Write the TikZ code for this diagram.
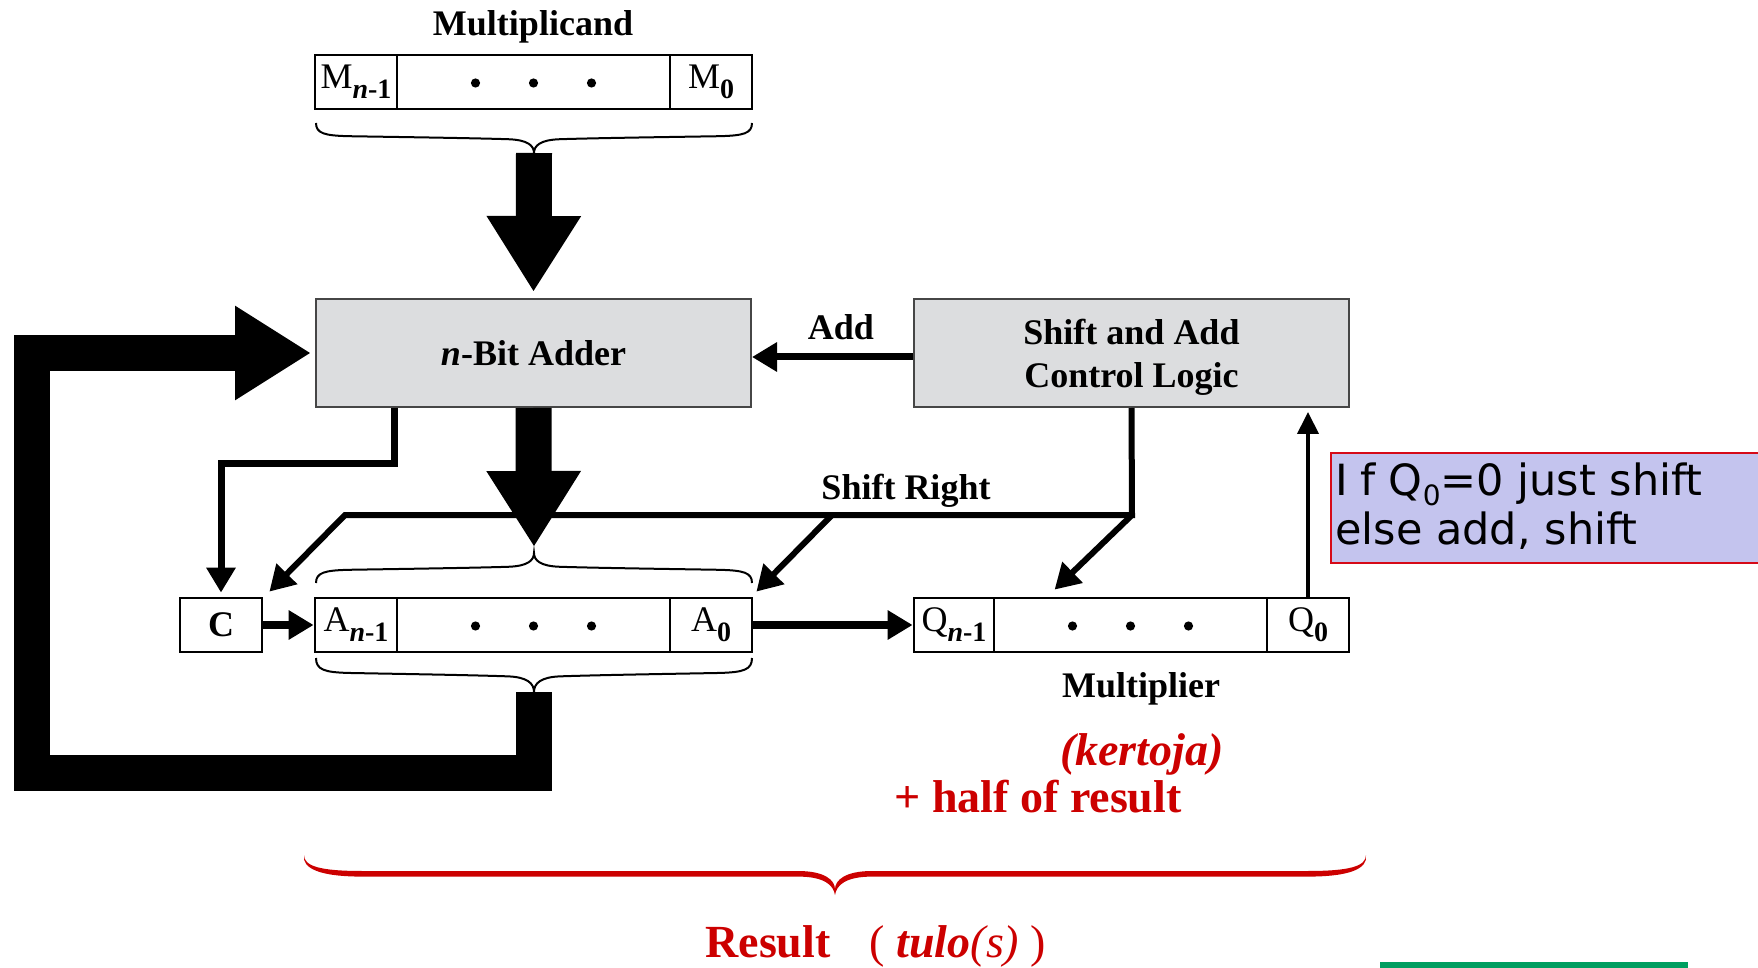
\documentclass[tikz,border=0pt]{standalone}
\usepackage{fontspec}
\setmainfont{Liberation Serif}
\newfontfamily\notefont{DejaVu Sans}
\usetikzlibrary{arrows.meta,calc}

\definecolor{unitgray}{RGB}{220,221,223}
\definecolor{unitedge}{RGB}{70,70,70}
\definecolor{notefill}{RGB}{196,196,238}
\definecolor{noteedge}{RGB}{214,10,24}
\definecolor{textred}{RGB}{204,0,0}
\definecolor{barGreen}{RGB}{0,158,96}

% subscript used in the register cells
\newcommand\regsub[1]{\raisebox{-0.28em}{\fontsize{14}{14}\selectfont\bfseries #1}}

\tikzset{
  lbl/.style={font={\fontsize{18}{21}\selectfont\bfseries}, inner sep=0pt, anchor=base},
  cell/.style={draw=black, line width=1.4pt, inner sep=0pt, minimum height=27pt,
    font={\fontsize{18}{21}\selectfont}},
  unitbox/.style={draw=unitedge, line width=1pt, fill=unitgray, inner sep=0pt,
    minimum width=217.5pt, minimum height=54pt},
  sig/.style={line width=3.5pt, -{Triangle[length=12.5pt,width=14pt]}, line join=miter},
  bigarrow/.style={line width=18pt, -{Triangle[length=38pt,width=44.5pt]}, line join=miter},
  braceline/.style={line width=1pt, black},
  redtxt/.style={text=textred, inner sep=0pt, anchor=base,
    font={\fontsize{23}{27}\selectfont\bfseries}},
  notetxt/.style={inner sep=0pt, anchor=base west, font={\notefont\fontsize{21.5}{25}\selectfont}},
  dotmark/.style={fill=black},
  pics/curlybrace/.style={code={
    \draw[braceline]
      (-1,0) .. controls (-1,0.35) and (-0.96,0.42) .. (-0.85,0.44)
      .. controls (-0.6,0.47) and (-0.3,0.5) .. (-0.12,0.54)
      .. controls (-0.03,0.56) and (0,0.75) .. (0,1)
      .. controls (0,0.75) and (0.03,0.56) .. (0.12,0.54)
      .. controls (0.3,0.5) and (0.6,0.47) .. (0.85,0.44)
      .. controls (0.96,0.42) and (1,0.35) .. (1,0);
  }},
  pics/bigbrace/.style={code={
    \fill[textred]
      (-1,0) .. controls (-1,0.28) and (-0.97,0.40) .. (-0.89,0.40)
      -- (-0.07,0.40) .. controls (-0.02,0.40) and (0,0.62) .. (0,0.86)
      .. controls (0,0.62) and (0.02,0.40) .. (0.07,0.40)
      -- (0.89,0.40) .. controls (0.97,0.40) and (1,0.28) .. (1,0)
      .. controls (1.004,0.34) and (0.97,0.54) .. (0.89,0.54)
      -- (0.07,0.54) .. controls (0.02,0.54) and (0.003,0.75) .. (0,1)
      .. controls (-0.003,0.75) and (-0.02,0.54) .. (-0.07,0.54)
      -- (-0.89,0.54) .. controls (-0.97,0.54) and (-1.004,0.34) .. (-1,0) -- cycle;
  }}
}

\begin{document}
\begin{tikzpicture}[x=0.5pt,y=-0.5pt]
\useasboundingbox (0,0) rectangle (1758,968);

% ---------- multiplicand register ----------
\node[lbl] (mcand) at (533,36) {Multiplicand};
\node[cell, minimum width=41pt]    (ML) at (356,82)   {M\regsub{\textit{n}-1}};
\node[cell, minimum width=136.5pt] (MD) at (533.5,82) {};
\node[cell, minimum width=41pt]    (MR) at (711,82)   {M\regsub{0}};
\pic[xscale=218, yscale=30] at (534,123) {curlybrace};
\coordinate (mtip) at (534,153);

% ---------- functional units ----------
\node[unitbox, font={\fontsize{18}{21}\selectfont\bfseries}] (adder) at (533.5,353) {\textit{n}-Bit Adder};
\node[unitbox] (ctl) at (1131.5,353) {};
\node[lbl, anchor=center, align=center, font={\fontsize{18}{21.5}\selectfont\bfseries}]
  (ctltext) at ([yshift=-2pt]ctl.center) {Shift and Add\\Control Logic};

% ---------- C, A and Q registers ----------
\node[cell, minimum width=41pt, font={\fontsize{18}{21}\selectfont\bfseries}] (C) at (221,625) {C};
\node[cell, minimum width=41pt]    (AL) at (356,625)   {A\regsub{\textit{n}-1}};
\node[cell, minimum width=136.5pt] (AD) at (533.5,625) {};
\node[cell, minimum width=41pt]    (AR) at (711,625)   {A\regsub{0}};
\node[cell, minimum width=40pt]    (QL) at (954,625)    {Q\regsub{\textit{n}-1}};
\node[cell, minimum width=136.5pt] (QD) at (1130.5,625) {};
\node[cell, minimum width=41pt]    (QR) at (1308,625)   {Q\regsub{0}};
\foreach \reg in {MD,AD,QD}{
  \foreach \dx in {-58,0,58}
    \fill[dotmark] ($(\reg.center)+(\dx,1)$) circle[radius=2.3pt];
}
\pic[xscale=218, yscale=-30] at (534,583) {curlybrace};
\pic[xscale=218, yscale=34] at (534,658) {curlybrace};
\coordinate (atop) at (534,553);
\coordinate (abot) at (534,692);

\node[lbl] (addlbl) at (841,340) {Add};
\node[lbl] (srlbl) at (906,500) {Shift Right};
\node[lbl] (mplier) at (1141,697) {Multiplier};

% ---------- control signals ----------
\draw[sig] ([yshift=-2pt]ctl.west) -- ([yshift=-2pt]adder.east);
\draw[sig] ([xshift=39.5pt]adder.south west) -- ++(0,56) -| ([yshift=2pt]C.north);

\coordinate (sj) at (1132,515);
\coordinate (sl) at (345,515);
\coordinate (sm) at (832,515);
\draw[sig, line width=3pt] (ctl.south) -- (sj) -- (sl) -- ([shift={(6,-5)}]C.north east);
\draw[sig, line width=3pt] (sm) -- ([shift={(3,-5)}]AR.north east);
\draw[sig, line width=3pt] (sj) -- ([shift={(62,-7)}]QD.north west);

\draw[sig, line width=4pt] (C.east) -- (AL.west);
\draw[sig, line width=4pt] (AR.east) -- (QL.west);
\draw[line width=2pt, -{Triangle[length=11pt,width=10.5pt]}]
  (QR.north) -- ($(QR.north |- ctl.south)+(0,4)$);

% ---------- data paths ----------
\draw[bigarrow] (mtip) -- ([yshift=3pt]adder.north);
\draw[bigarrow] (adder.south) -- ([yshift=3pt]atop);
\coordinate (fbcorner) at (32,773);
\draw[bigarrow] (abot) -- (abot |- fbcorner) -- (fbcorner)
  -- (fbcorner |- adder.west) -- ([xshift=-2pt]adder.west);

% ---------- note box ----------
\begin{scope}
  \clip (0,0) rectangle (1758,968);
  \node[draw=noteedge, line width=1pt, fill=notefill, inner sep=0pt, anchor=north west,
    minimum width=225pt, minimum height=55pt] (note) at (1330,452) {};
  \fill[barGreen] (1380,962) rectangle (1688,975);
\end{scope}
\node[notetxt] (note1) at (1335,495) {I\kern0.28em f Q\raisebox{-0.25em}{\fontsize{14}{14}\selectfont 0}=0 just shift};
\node[notetxt] (note2) at (1335,545) {else add, shift};

% ---------- result annotation ----------
\node[redtxt, font={\fontsize{23}{27}\selectfont\bfseries\itshape}] (kertoja) at (1142,765) {(kertoja)};
\node[redtxt] (half) at (1038,812) {+ half of result};
\pic at (835,855) [xscale=531, yscale=40] {bigbrace};
\node[redtxt, anchor=base west] (result) at (705,957)
  {Result\hspace{0.85em}{\mdseries(} \textit{tulo}{\mdseries\itshape(s)} {\mdseries)}};
\end{tikzpicture}
\end{document}
